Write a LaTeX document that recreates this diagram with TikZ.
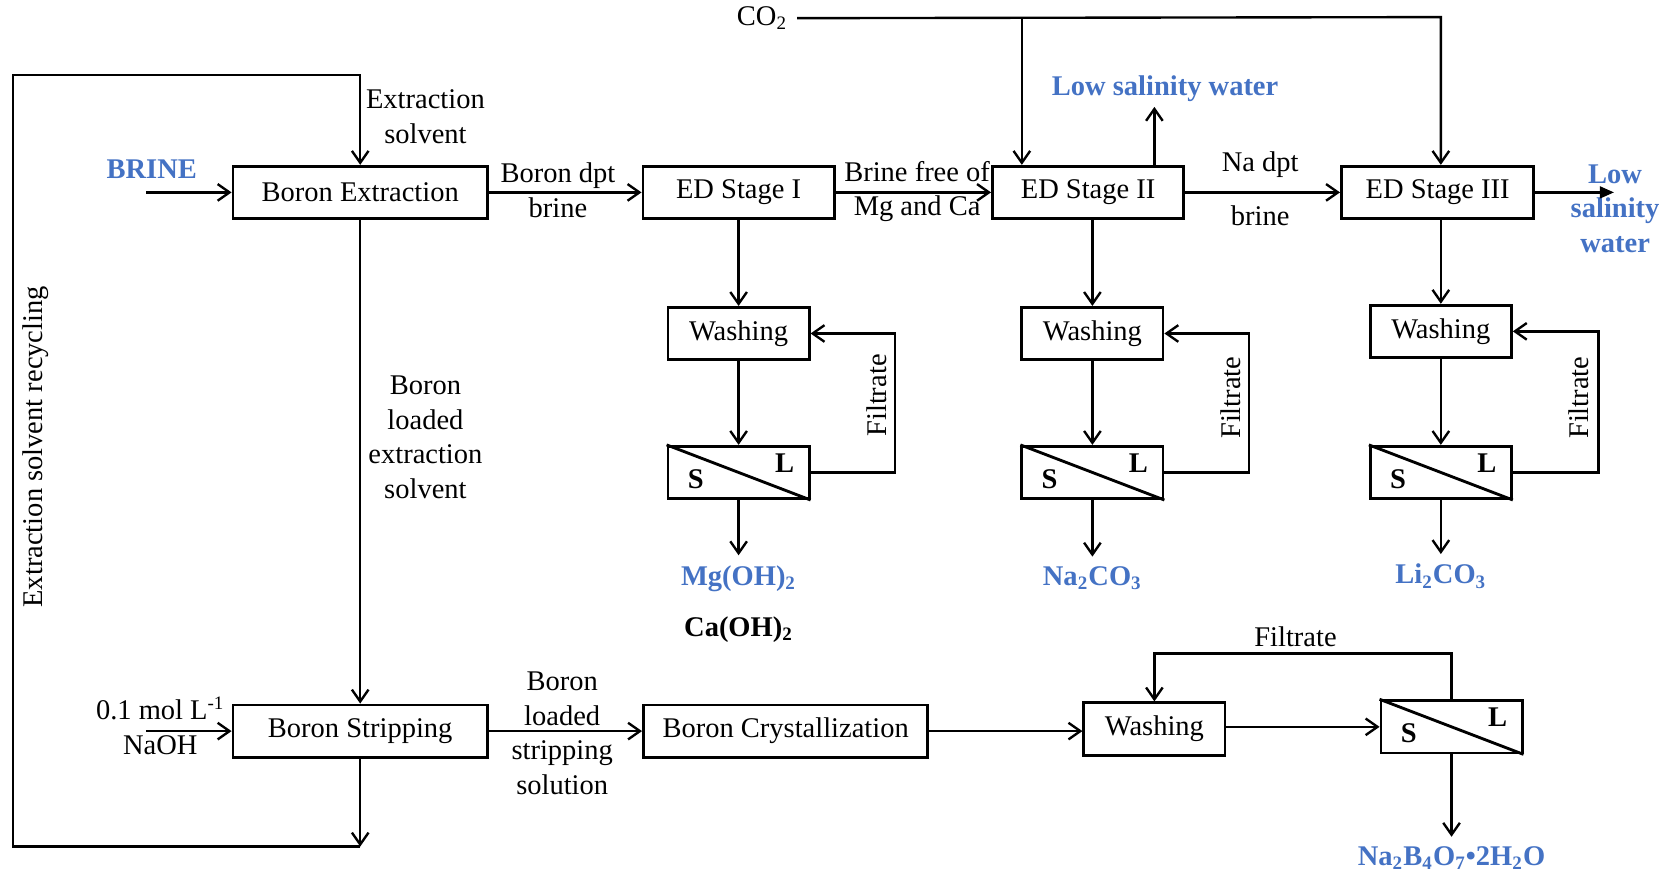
\documentclass[tikz,border=0pt,12pt]{standalone}
\usepackage{fontspec}
\setmainfont{Liberation Serif}
\usepackage{xcolor}
\usetikzlibrary{calc, arrows.meta}

\definecolor{saltblue}{HTML}{4472C4}

\tikzset{
	unit/.style={draw, line width=1.2pt, minimum height=22pt, inner sep=0pt},
	flow/.style={line width=1pt, -{Straight Barb[length=5pt, width=7pt]}},
	feed/.style={align=center},
	product/.style={font=\bfseries, text=saltblue, align=center}
}

\begin{document}
\begin{tikzpicture}[x=0.45pt, y=-0.45pt]
			\def\px{0.45pt};
			\useasboundingbox (0,0) rectangle (1568,818);

			\newcommand{\drawSeparator}[2]
			{
				\node[unit, minimum width=132*\px] (#1) at (#2) {};
				\draw[line width=1.2pt] (#1.north west) -- (#1.south east);
				\node[font=\bfseries] (#1S) at ($ (#1) + (-40,6) $) {S};
				\node[font=\bfseries] (#1L) at ($ (#1) + (43,-9) $) {L};
			}

			% brine line
			\begin{scope}
				\node[unit, minimum width=238*\px] (extr) at (337,180) {Boron Extraction};
				\node[unit, minimum width=179*\px] (edI) at (691,180) {ED Stage I};
				\node[unit, minimum width=179*\px] (edII) at (1018,180) {ED Stage II};
				\node[unit, minimum width=180*\px] (edIII) at (1345,180) {ED Stage III};

				\node[product] (brine) at (142,158) {BRINE};
				\coordinate (brineIn) at (137,180);
				\node[feed] (extrSolv) at (398,109) {Extraction\\solvent};
				\node[feed] (bdpt) at (522,178) {Boron dpt\\brine};
				\node[feed] (freeMgCa) at (858,179) {Brine free of\\Mg and Ca};
				\node (nadpt) at (1179,154) {Na dpt};
				\node (nabrine) at (1179,202) {brine};
				\node[product] (lswTop) at (1090,83) {Low salinity water};
				\coordinate (lswUp) at (1080,100);
				\node[product] (lswRight) at (1511,195) {Low\\salinity\\water};
				\coordinate (lswOut) at (1510,180);
				\node (co2) at (713,17) {CO\textsubscript{2}};
				\coordinate (co2II) at (956,16);
				\coordinate (co2III) at (1348,16);
			\end{scope}

			% washing and filtration
			\begin{scope}
				\node[unit, minimum width=132*\px] (washI) at (691,312) {Washing};
				\drawSeparator{slI}{691,442}
				\node[rotate=90] (filtI) at (820,370) {Filtrate};
				\node[product] (mgoh) at (691,541) {Mg(OH)\textsubscript{2}};
				\node[font=\bfseries] (caoh) at (691,589) {Ca(OH)\textsubscript{2}};

				\node[unit, minimum width=132*\px] (washII) at (1022,312) {Washing};
				\drawSeparator{slII}{1022,442}
				\node[rotate=90] (filtII) at (1151,372) {Filtrate};
				\node[product] (naco) at (1022,541) {Na\textsubscript{2}CO\textsubscript{3}};

				\node[unit, minimum width=132*\px] (washIII) at (1348,310) {Washing};
				\drawSeparator{slIII}{1348,442}
				\node[rotate=90] (filtIII) at (1477,372) {Filtrate};
				\node[product] (lico) at (1348,539) {Li\textsubscript{2}CO\textsubscript{3}};
			\end{scope}

			% boron line
			\begin{scope}
				\node[unit, minimum width=238*\px] (strip) at (337,684) {Boron Stripping};
				\node[unit, minimum width=266*\px] (cryst) at (735,684) {Boron Crystallization};
				\node[unit, minimum width=132*\px] (washB) at (1080,682) {Washing};
				\drawSeparator{slB}{1358,680}
				\node (filtB) at (1212,596) {Filtrate};
				\node[product] (borax) at (1358,803) {Na\textsubscript{2}B\textsubscript{4}O\textsubscript{7}\textbullet 2H\textsubscript{2}O};

				\node[feed] (naoh) at (150,679) {0.1 mol L\textsuperscript{-1}\\NaOH};
				\coordinate (naohIn) at (137,684);
				\node[feed] (bloadExtr) at (398,409) {Boron\\loaded\\extraction\\solvent};
				\node[feed] (bloadStrip) at (526,686) {Boron\\loaded\\stripping\\solution};
				\node[rotate=90] (recycle) at (33,418) {Extraction solvent recycling};
				\coordinate (recycleBot) at (337,792);
				\coordinate (recycleTop) at (12,70);
			\end{scope}

			% connectors
			\draw[flow] (brineIn) -- (extr);
			\draw[flow] (extr) -- (edI);
			\draw[flow] (edI) -- (edII);
			\draw[flow] (edII) -- (edIII);
			\draw[line width=1pt, -{Triangle[length=6pt, width=5pt]}] (edIII) -- (lswOut);
			\draw[flow] (edII.north -| lswUp) -- (lswUp);
			\draw[flow] (co2.east) -- (co2III) -- (co2III |- edIII.north);
			\draw[flow] (co2II) -- (co2II |- edII.north);

			\foreach \col/\prod/\loopx in {I/mgoh/79, II/naco/79, III/lico/80}
			{
				\draw[flow] (wash\col.north |- ed\col.south) -- (wash\col);
				\draw[flow] (wash\col) -- (sl\col);
				\draw[flow] (sl\col) -- (\prod);
				\draw[flow] (sl\col.east) -- ++(\loopx,0) |- (wash\col.east);
			}

			\draw[flow] (extr) -- (strip);
			\draw[flow] (naohIn) -- (strip);
			\draw[flow] (strip) -- (cryst);
			\draw[flow] (cryst) -- (cryst -| washB.west);
			\draw[flow] (washB.east |- slB) -- (slB);
			\draw[flow] (slB.north) -- ++(0,-43) -| (washB.north);
			\draw[flow] (slB) -- (borax);
			\draw[flow] (strip) -- (recycleBot);
			\draw[flow] (recycleBot) -| (recycleTop) -| (extr.north);
		\end{tikzpicture}
\end{document}
